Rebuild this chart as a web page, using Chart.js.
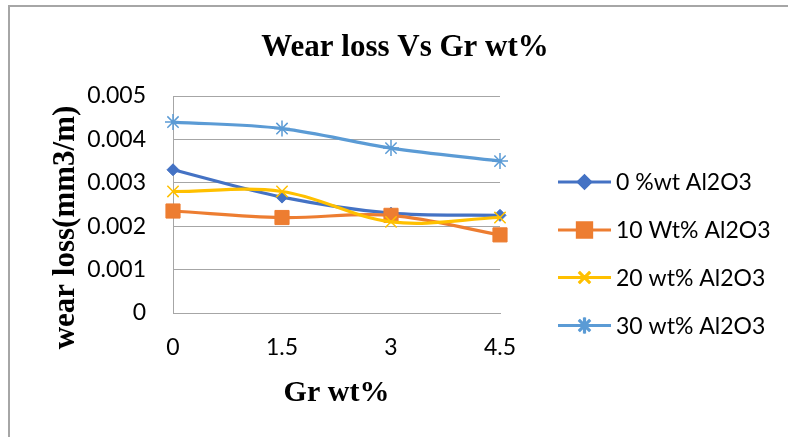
<!DOCTYPE html>
<html>
<head>
<meta charset="utf-8">
<script src="https://cdn.jsdelivr.net/npm/chart.js@4.4.1/dist/chart.umd.min.js"></script>
<style>
  html, body { margin: 0; padding: 0; background: #fff; }
  #wrap { width: 788px; height: 437px; position: relative; }
</style>
</head>
<body>
<div id="wrap"><canvas id="c" width="788" height="437"></canvas></div>
<script>
const chartTitle = 'Wear loss Vs Gr wt%';
const xTitle = 'Gr wt%';
const yTitle = 'wear loss(mm3/m)';
const categories = ['0', '1.5', '3', '4.5'];
const seriesNames = ['0 %wt Al2O3', '10 Wt% Al2O3', '20 wt% Al2O3', '30 wt% Al2O3'];
const s0 = [0.0033, 0.00267, 0.0023, 0.00225];
const s10 = [0.00235, 0.0022, 0.00225, 0.0018];
const s20 = [0.0028, 0.0028, 0.0021, 0.0022];
const s30 = [0.0044, 0.00425, 0.0038, 0.0035];
const yMin = 0, yMax = 0.005, yStep = 0.001;

const tickFont = { family: 'Lato', size: 23 };
const serif = '"Liberation Serif", "Times New Roman", serif';

function ds(label, data, color, style, radius, bw, order) {
  return {
    label, data, order,
    borderColor: color, backgroundColor: color,
    borderWidth: 3.2,
    tension: 0.35,
    pointStyle: style,
    pointRadius: radius,
    pointHoverRadius: radius,
    pointBorderWidth: bw,
    pointBorderColor: color,
    pointBackgroundColor: color,
    fill: false
  };
}

const datasets = [
  ds(seriesNames[0], s0, '#4472C4', 'rectRot', 6, 1, 3),
  ds(seriesNames[1], s10, '#ED7D31', 'rect', 10, 1, 2),
  ds(seriesNames[2], s20, '#FFC000', 'crossRot', 8, 1.5, 1),
  ds(seriesNames[3], s30, '#5B9BD5', 'star', 8, 1.5, 0)
];

const decor = {
  id: 'decor',
  afterDraw(chart) {
    const ctx = chart.ctx;
    ctx.save();
    // frame
    ctx.strokeStyle = '#a6a6a6';
    ctx.lineWidth = 2;
    ctx.beginPath();
    ctx.moveTo(9, 437);
    ctx.lineTo(9, 6);
    ctx.lineTo(788, 6);
    ctx.stroke();
    // title
    ctx.fillStyle = '#000';
    ctx.textAlign = 'center';
    ctx.textBaseline = 'alphabetic';
    ctx.font = 'bold 31px ' + serif;
    ctx.fillText(chartTitle, 405, 56);
    // x title
    const ca = chart.chartArea;
    ctx.font = 'bold 30px ' + serif;
    ctx.fillText(xTitle, (ca.left + ca.right) / 2, 401);
    // y title
    ctx.save();
    ctx.translate(74, (ca.top + ca.bottom) / 2 + 23);
    ctx.rotate(-Math.PI / 2);
    ctx.font = 'bold 31px ' + serif;
    ctx.textBaseline = 'alphabetic';
    ctx.fillText(yTitle, 0, 0);
    ctx.restore();
    // legend
    const rowY = [182, 230, 277.5, 325.5];
    chart.data.datasets.forEach((d, i) => {
      const y = rowY[i];
      ctx.strokeStyle = d.borderColor;
      ctx.lineWidth = 3.2;
      ctx.beginPath();
      ctx.moveTo(558, y);
      ctx.lineTo(611, y);
      ctx.stroke();
      Chart.helpers.drawPoint(ctx, {
        pointStyle: d.pointStyle,
        radius: d.pointRadius,
        borderWidth: d.pointBorderWidth,
        rotation: 0
      }, 584.5, y);
      ctx.fillStyle = d.pointBackgroundColor;
      ctx.strokeStyle = d.pointBorderColor;
      ctx.lineWidth = d.pointBorderWidth;
      ctx.fill();
      ctx.stroke();
      ctx.fillStyle = '#000';
      ctx.textAlign = 'left';
      ctx.textBaseline = 'middle';
      ctx.font = '23px Lato';
      ctx.fillText(d.label, 616, y + 1);
    });
    ctx.restore();
  }
};

new Chart(document.getElementById('c'), {
  type: 'line',
  data: { labels: categories, datasets },
  options: {
    responsive: false,
    animation: false,
    layout: { padding: { top: 96, right: 288, bottom: 0, left: 0 } },
    plugins: { legend: { display: false }, title: { display: false }, tooltip: { enabled: false } },
    scales: {
      x: {
        offset: false,
        grid: { display: false, drawTicks: false },
        border: { display: true, color: '#a6a6a6', width: 1 },
        ticks: { font: tickFont, color: '#000', padding: 21, maxRotation: 0 },
        afterFit(s) { s.height = 124; }
      },
      y: {
        min: yMin, max: yMax,
        grid: { color: '#a6a6a6', lineWidth: 1, drawTicks: false },
        border: { display: true, color: '#a6a6a6', width: 1 },
        ticks: {
          stepSize: yStep, font: tickFont, color: '#000', padding: 27,
          callback: v => (Math.abs(v) < 1e-12 ? '0' : Number(v).toFixed(3))
        },
        afterFit(s) { s.width = 173; }
      }
    }
  },
  plugins: [decor]
});
</script>
</body>
</html>
